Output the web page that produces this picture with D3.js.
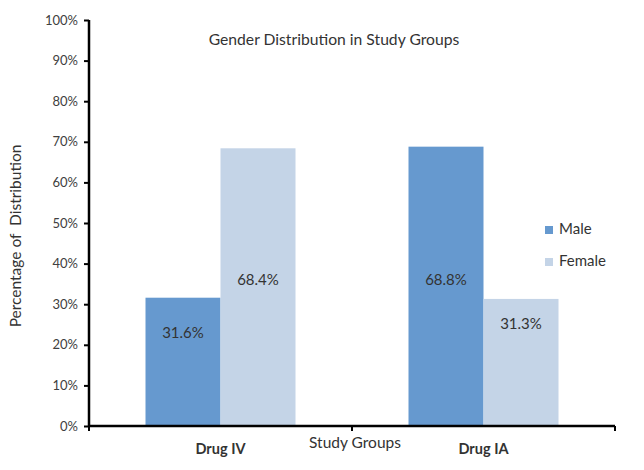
<!DOCTYPE html>
<html><head><meta charset="utf-8">
<script src="https://cdn.jsdelivr.net/npm/d3@7"></script>
<style>body{margin:0;background:#fff}svg{display:block;font-family:Lato,"Open Sans",sans-serif}</style>
</head><body>
<script>
const categories = ["Drug IV", "Drug IA"];
const seriesNames = ["Male", "Female"];
const male = [31.6, 68.8];
const female = [68.4, 31.3];
const valueLabels = [["31.6%", "68.8%"], ["68.4%", "31.3%"]];
const labelAt = [[22.7, 35.7], [35.7, 24.9]]; // label anchor in value units
const yTicks = [0,10,20,30,40,50,60,70,80,90,100];
const colors = ["#6699cf", "#c4d4e7"];

const W = 644, H = 470;
const m = {left: 89, right: 29, top: 20, bottom: 44};
const svg = d3.select("body").append("svg").attr("width", W).attr("height", H);
const x = d3.scaleBand().domain(categories).range([m.left, W - m.right]).paddingInner(0).paddingOuter(0);
const inner = d3.scaleBand().domain(seriesNames).range([56.5, x.bandwidth() - 56.5]);
const y = d3.scaleLinear().domain([0, 100]).range([H - m.bottom, m.top]);

const series = [male, female];
series.forEach((vals, si) => {
  svg.append("g").selectAll("rect").data(vals).join("rect")
    .attr("x", (d, i) => x(categories[i]) + inner(seriesNames[si]))
    .attr("width", inner.bandwidth())
    .attr("y", d => y(d))
    .attr("height", d => y(0) - y(d))
    .attr("fill", colors[si]);
  svg.append("g").selectAll("text").data(vals).join("text")
    .attr("x", (d, i) => x(categories[i]) + inner(seriesNames[si]) + inner.bandwidth() / 2)
    .attr("y", (d, i) => y(labelAt[si][i]))
    .attr("text-anchor", "middle").attr("dominant-baseline", "middle")
    .attr("font-size", 15).attr("fill", "#333")
    .text((d, i) => valueLabels[si][i]);
});

// y axis
const ya = svg.append("g").attr("transform", `translate(${m.left},0)`)
  .call(d3.axisLeft(y).tickValues(yTicks).tickFormat(d => d + "%").tickSize(5).tickPadding(6));
ya.select(".domain").attr("stroke", "#000").attr("stroke-width", 2.5).attr("d", `M0,${y(100)}V${y(0)}`);
ya.selectAll(".tick line").attr("stroke", "#000").attr("stroke-width", 2);
ya.selectAll(".tick text").attr("font-size", 13).attr("fill", "#404040").attr("font-family", "Lato,'Open Sans',sans-serif");

// x axis
const xa = svg.append("g").attr("transform", `translate(0,${y(0)})`);
xa.append("line").attr("x1", m.left).attr("x2", W - m.right).attr("stroke", "#000").attr("stroke-width", 2.5);
const bounds = [x(categories[0]), x(categories[1]), x(categories[1]) + x.bandwidth()];
xa.selectAll("line.t").data(bounds).join("line").attr("class", "t")
  .attr("x1", d => d).attr("x2", d => d).attr("y1", 0).attr("y2", 5)
  .attr("stroke", "#000").attr("stroke-width", 2);
xa.selectAll("text.c").data(categories).join("text").attr("class", "c")
  .attr("x", d => x(d) + x.bandwidth() / 2).attr("y", 28)
  .attr("text-anchor", "middle").attr("font-size", 14.5).attr("font-weight", "bold").attr("fill", "#333")
  .text(d => d);

// titles
svg.append("text").attr("x", 334).attr("y", 45).attr("text-anchor", "middle")
  .attr("font-size", 15.7).attr("fill", "#333").text("Gender Distribution in Study Groups");
svg.append("text").attr("x", 355).attr("y", 448).attr("text-anchor", "middle")
  .attr("font-size", 15.5).attr("fill", "#333").text("Study Groups");
svg.append("text").attr("transform", `translate(21,${236}) rotate(-90)`).attr("text-anchor", "middle")
  .attr("font-size", 15.5).attr("fill", "#333").style("white-space", "pre").text("Percentage of  Distribution");

// legend
const lg = svg.append("g").attr("transform", "translate(545,226)");
seriesNames.forEach((s, i) => {
  lg.append("rect").attr("x", 0).attr("y", i * 32).attr("width", 8).attr("height", 8).attr("fill", colors[i]);
  lg.append("text").attr("x", 14).attr("y", i * 32 + 4).attr("dominant-baseline", "middle")
    .attr("font-size", 15).attr("fill", "#333").text(s);
});
</script>
</body></html>
